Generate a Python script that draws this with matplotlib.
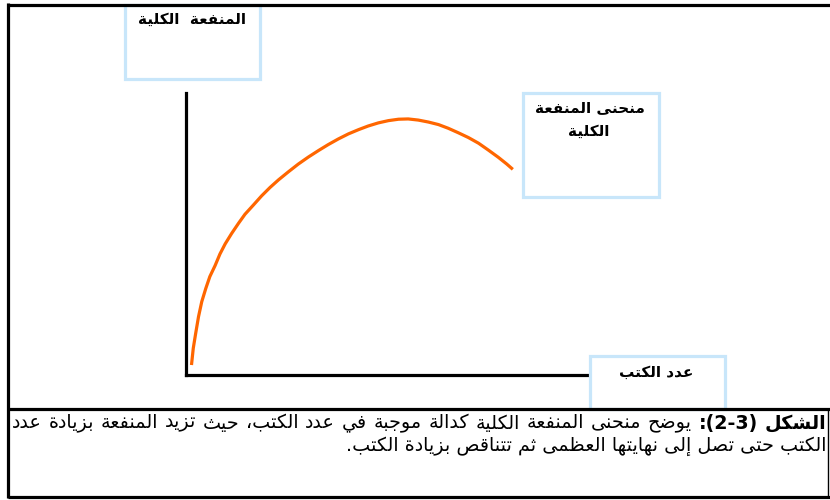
import re
import matplotlib
matplotlib.use("Agg")
import matplotlib.pyplot as plt
from matplotlib.patches import Rectangle
from matplotlib.lines import Line2D

# data: number of books vs. total utility (no scale shown)
books = [0.14, 0.18, 0.24, 0.31, 0.39, 0.49, 0.59, 0.72, 0.84, 0.97, 1.13, 1.30, 1.46, 1.67,
         1.87, 2.08, 2.29, 2.53, 2.78, 3.03, 3.28, 3.52, 3.77, 4.02, 4.27, 4.51, 4.76, 5.01,
         5.26, 5.50, 5.75, 6.00, 6.25, 6.49, 6.74, 6.99, 7.24, 7.48, 7.73, 7.94, 8.06]
utility = [4.1, 9.5, 14.8, 20.7, 26.0, 30.7, 34.9, 38.8, 42.9, 46.5, 50.2, 53.8, 57.0, 60.3,
           63.5, 66.5, 69.2, 72.0, 74.8, 77.3, 79.6, 81.7, 83.7, 85.5, 87.0, 88.3, 89.4, 90.2,
           90.7, 90.8, 90.4, 89.7, 88.8, 87.5, 85.9, 84.2, 82.2, 79.8, 77.2, 74.8, 73.3]

y_label = "المنفعة  الكلية"
curve_label = ["منحنى المنفعة", "الكلية"]
x_label = "عدد الكتب"
caption_head = "الشكل (2-3):"
caption_line1 = "يوضح منحنى المنفعة الكلية كدالة موجبة في عدد الكتب، حيث تزيد المنفعة بزيادة عدد"
caption_line2 = "الكتب حتى تصل إلى نهايتها العظمى ثم تتناقص بزيادة الكتب."

# matplotlib does no arabic shaping, so do a small one here
DUAL = {'ئ': 0xFE89, 'ب': 0xFE8F, 'ت': 0xFE95, 'ث': 0xFE99, 'ج': 0xFE9D, 'ح': 0xFEA1,
        'خ': 0xFEA5, 'س': 0xFEB1, 'ش': 0xFEB5, 'ص': 0xFEB9, 'ض': 0xFEBD, 'ط': 0xFEC1,
        'ظ': 0xFEC5, 'ع': 0xFEC9, 'غ': 0xFECD, 'ف': 0xFED1, 'ق': 0xFED5, 'ك': 0xFED9,
        'ل': 0xFEDD, 'م': 0xFEE1, 'ن': 0xFEE5, 'ه': 0xFEE9, 'ي': 0xFEF1}
RIGHT = {'آ': 0xFE81, 'أ': 0xFE83, 'ؤ': 0xFE85, 'إ': 0xFE87, 'ا': 0xFE8D, 'ة': 0xFE93,
         'د': 0xFEA9, 'ذ': 0xFEAB, 'ر': 0xFEAD, 'ز': 0xFEAF, 'و': 0xFEED, 'ى': 0xFEEF}
LAM_ALEF = {'آ': 0xFEF5, 'أ': 0xFEF7, 'إ': 0xFEF9, 'ا': 0xFEFB}


def shape(s):
    out = []
    i = 0
    while i < len(s):
        c = s[i]
        prev = i > 0 and s[i - 1] in DUAL
        nxt = i + 1 < len(s) and (s[i + 1] in DUAL or s[i + 1] in RIGHT)
        if c == 'ل' and i + 1 < len(s) and s[i + 1] in LAM_ALEF:
            out.append(chr(LAM_ALEF[s[i + 1]] + (1 if prev else 0)))
            i += 2
            continue
        if c in DUAL:
            out.append(chr(DUAL[c] + {(False, False): 0, (True, False): 1,
                                      (False, True): 2, (True, True): 3}[(prev, nxt)]))
        elif c in RIGHT:
            out.append(chr(RIGHT[c] + (1 if prev else 0)))
        else:
            out.append(c)
        i += 1
    return ''.join(out)


def visual(s):
    r = shape(s)[::-1].translate(str.maketrans('()', ')('))
    return re.sub(r'[0-9][0-9\-]*[0-9]|[0-9]', lambda m: m.group(0)[::-1], r)


plt.rcParams['font.family'] = ['DejaVu Sans']
W, H = 830, 500
fig = plt.figure(figsize=(W / 100, H / 100), dpi=100)

# the curve, on its own axes
ax = fig.add_axes([186 / W, (H - 375) / H, 404 / W, 282 / H])
ax.plot(books, utility, color='#FF6600', lw=2.3)
ax.set_xlim(0, 10)
ax.set_ylim(0, 100)
ax.set_xticks([])
ax.set_yticks([])
for s in ['top', 'right']:
    ax.spines[s].set_visible(False)
for s in ['left', 'bottom']:
    ax.spines[s].set_linewidth(2.3)
    ax.spines[s].set_capstyle('projecting')

# overlay in pixel units for the frame, boxes and texts
ov = fig.add_axes([0, 0, 1, 1], zorder=3)
ov.set_xlim(0, W)
ov.set_ylim(H, 0)
ov.axis('off')

box_col = '#C8E6FA'
for x0, y0, x1, y1 in [(125, 5, 260, 79), (523, 93, 659, 197), (590, 356, 725, 409)]:
    ov.add_patch(Rectangle((x0, y0), x1 - x0, y1 - y0, fc='white', ec=box_col, lw=2.3))

for xs, ys, lw in [((7, W), (4.5, 4.5), 2.3), ((8, 8), (3, 498), 2.3),
                   ((8, W), (409, 409), 2.3), ((8, W), (496.5, 496.5), 2.3),
                   ((828, 828), (409, 497), 1.0)]:
    ov.add_line(Line2D(xs, ys, color='black', lw=lw, solid_capstyle='butt'))

lab = dict(ha='center', va='center', fontsize=11, fontweight='bold')
ov.text(192, 19, visual(y_label), **lab)
ov.text(590, 108, visual(curve_label[0]), **lab)
ov.text(589, 131, visual(curve_label[1]), **lab)
ov.text(656, 372, visual(x_label), **lab)

# caption: size fitted on line 1, which is then justified word by word
renderer = fig.canvas.get_renderer()
probe = ov.text(0, 0, visual(caption_head + ' ' + caption_line1), fontsize=10)
cap_size = 10 * 790 / probe.get_window_extent(renderer).width
probe.remove()

words = [(w, 'bold') for w in caption_head.split()] + [(w, 'normal') for w in caption_line1.split()]
items = []
for w, wt in words:
    t = ov.text(0, 423, visual(w), fontsize=cap_size, fontweight=wt, ha='left', va='center')
    items.append((t, t.get_window_extent(renderer).width))
gap = (826 - 12 - sum(wd for _, wd in items)) / (len(items) - 1)
x = 826
for t, wd in items:
    x -= wd
    t.set_x(x)
    x -= gap

ov.text(826, 446, visual(caption_line2), fontsize=cap_size, ha='right', va='center')

fig.savefig('out.png', dpi=100)
